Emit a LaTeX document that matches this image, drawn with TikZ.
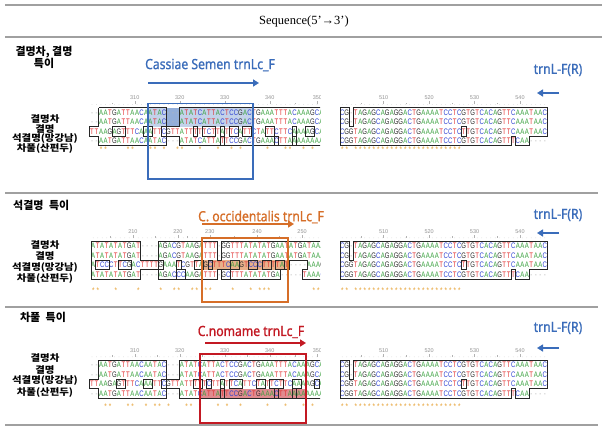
\documentclass[tikz,border=0pt]{standalone}
\usepackage{fontspec}
\setmainfont{Liberation Serif}
\newfontfamily\krf{Noto Sans CJK KR}
\newfontfamily\krw[FakeStretch=1.12]{Noto Sans CJK KR}
\newfontfamily\latf[FakeStretch=0.87,FakeBold=1]{Noto Sans}
\newfontfamily\seqf[FakeStretch=0.75]{Liberation Sans}
\newfontfamily\numf{Liberation Sans}
\usetikzlibrary{arrows.meta}
\definecolor{cA}{RGB}{55,160,60}
\definecolor{cC}{RGB}{45,65,210}
\definecolor{cG}{RGB}{40,40,40}
\definecolor{cT}{RGB}{225,40,40}
\definecolor{cStar}{RGB}{232,165,60}
\definecolor{cBlue}{RGB}{58,108,186}
\definecolor{cOrange}{RGB}{214,110,40}
\definecolor{cRed}{RGB}{195,25,35}
\definecolor{cLine}{RGB}{160,160,160}
\makeatletter
\def\sq@char#1{\makebox[4.5pt][c]{%
 \if#1A\textcolor{cA}{A}\else
 \if#1C\textcolor{cC}{C}\else
 \if#1G\textcolor{cG}{G}\else
 \if#1T\textcolor{cT}{T}\else
 \if#1*\raisebox{-1.6pt}{\textcolor{cStar}{\fontsize{8.5}{8.5}\selectfont *}}\else
 \if#1-\textcolor{gray!55}{-}\fi\fi\fi\fi\fi\fi}}
\def\sq@loop#1{\ifx#1\relax\else\sq@char{#1}\expandafter\sq@loop\fi}
\newcommand\seqrow[1]{\sq@loop#1\relax}
\makeatother
\tikzset{
 blk/.style 2 args={shift={(#1,#2)}, x=4.5pt, y=-9.5pt},
 seqnode/.style={anchor=west, inner sep=0pt, outer sep=0pt, font=\seqf\fontsize{8}{8}\selectfont},
 outl/.style={draw=black!85, line width=0.75pt},
 rowlab/.style={font=\krw\bfseries\fontsize{9.3}{10}\selectfont, inner sep=0pt},
 sechead/.style={font=\krf\bfseries\fontsize{11}{13}\selectfont, inner sep=0pt},
 rulnum/.style={font=\numf\fontsize{5.5}{5.5}\selectfont, text=gray!85, inner sep=0pt},
 sepline/.style={draw=cLine, line width=1.4pt},
 primer/.style={font=\latf\fontsize{14}{16}\selectfont, inner sep=0pt},
 parrow/.style={line width=2.2pt, -{Triangle[length=6pt,width=7pt]}},
}
\newcommand\rul[3]{%
 \foreach \c in {0,...,#1} \fill[gray!60] (\c+0.5,-0.35) circle (0.28pt);
 \foreach \p/\l in {#2} {%
   \draw[gray!60, line width=0.4pt] (\p,-0.35) -- (\p,-0.68);
   \draw[gray!60, line width=0.4pt] (\p-5,-0.35) -- (\p-5,-0.52);
   \node[rulnum] (#3n\l) at (\p,-1.05) {\l};}}
\begin{document}
\begin{tikzpicture}[x=1pt,y=-1pt]
\useasboundingbox (0,0) rectangle (608,434);
\fill[white] (0,0) rectangle (608,434);
% header lines
\draw[sepline] (5,5) -- (602,5);
\node[font=\fontsize{12.5}{14}\selectfont, inner sep=0pt] (title) at (304,21) {Sequence(5'→3')};
\draw[sepline] (5,37) -- (602,37);
\draw[sepline] (5,193) -- (598,193);
\draw[sepline] (5,307) -- (598,307);
\draw[sepline] (5,425) -- (598,425);
% section headers
\node[sechead] (h1a) at (44,52) {결명차, 결명};
\node[sechead] (h1b) at (44,63.5) {특이};
\node[sechead, anchor=west] (h2) at (13,205) {석결명\hspace{0.5em}특이};
\node[sechead] (h3) at (43,317) {차풀\hspace{0.5em}특이};
% row labels
\node[rowlab] (l1a) at (45,119) {결명차};
\node[rowlab] (l1b) at (45,128.8) {결명};
\node[rowlab] (l1c) at (45,138.5) {석결명(망강남)};
\node[rowlab] (l1d) at (45,148.2) {차풀(산편두)};
\node[rowlab] (l2a) at (45,245.5) {결명차};
\node[rowlab] (l2b) at (45,256.5) {결명};
\node[rowlab] (l2c) at (45,267.5) {석결명(망강남)};
\node[rowlab] (l2d) at (45,278.5) {차풀(산편두)};
\node[rowlab] (l3a) at (45,358.5) {결명차};
\node[rowlab] (l3b) at (45,370) {결명};
\node[rowlab] (l3c) at (45,381) {석결명(망강남)};
\node[rowlab] (l3d) at (45,392.5) {차풀(산편두)};
% primer titles and arrows
\node[primer, text=cBlue] (p1) at (210,65) {Cassiae Semen trnLc\_F};
\node[primer, text=cOrange] (p2) at (261,217) {C. occidentalis trnLc\_F};
\node[primer, text=cRed] (p3) at (251,332) {C.nomame trnLc\_F};
\node[primer, text=cBlue] (r1) at (558,70) {trnL-F(R)};
\node[primer, text=cBlue] (r2) at (558,215) {trnL-F(R)};
\node[primer, text=cBlue] (r3) at (558,328) {trnL-F(R)};
\coordinate (a1s) at (148,83); \coordinate (a1e) at (259,83);
\coordinate (a2s) at (202,224); \coordinate (a2e) at (294,224);
\coordinate (a3s) at (205,343); \coordinate (a3e) at (306,343);
\coordinate (b1s) at (559,93); \coordinate (b1e) at (537,93);
\coordinate (b2s) at (559,233); \coordinate (b2e) at (537,233);
\coordinate (b3s) at (559,348); \coordinate (b3e) at (537,348);
\draw[parrow, cBlue] (a1s) -- (a1e);
\draw[parrow, cOrange] (a2s) -- (a2e);
\draw[parrow, cRed] (a3s) -- (a3e);
\draw[parrow, cBlue] (b1s) -- (b1e);
\draw[parrow, cBlue] (b2s) -- (b2e);
\draw[parrow, cBlue] (b3s) -- (b3e);
% ---------------- left blocks (clipped) ----------------
\begin{scope}
\clip (80,40) rectangle (320,430);
% section 1 left
\begin{scope}[blk={89.75}{107.75}]
 \fill[cBlue, opacity=0.3] (12.94,0) rectangle (36.3,2);
 \fill[cBlue, opacity=0.35] (17,0) rectangle (20,2);
 \rul{51}{10/310,20/320,30/330,40/340,50.6/350}{s1L}
 \node[seqnode] (s1Lr0) at (0,0.5) {\seqrow{--AATGATTAACAATAC---ATATCATTACTCCGACTGAAATTTACAAAGCA}};
 \node[seqnode] (s1Lr1) at (0,1.5) {\seqrow{--AATGATTAACAATAC---ATATCATTACTCCGACTGAAATTTACAAAGCA}};
 \node[seqnode] (s1Lr2) at (0,2.5) {\seqrow{TTAAGAGTTTCAAATTCGTTATTTTTCTTATTCATTCTATTCTTCAAAAGCA}};
 \node[seqnode] (s1Lr3) at (0,3.5) {\seqrow{--AATGATTAACAATAC---ATATCATTATTCCGACTGAAACTTAAAAAAAA}};
 \node[seqnode] (s1Lst) at (0,4.4) {\seqrow{..**....**...**.*..**...*...*..*.*.....*...**..*.*}};
 \draw[outl] (2,0) -- (17,0) -- (17,2) -- (20,2) -- (20,0) -- (53,0);
 \draw[outl] (2,0) -- (2,2) -- (0,2) -- (0,3) -- (2,3) -- (2,4) -- (17,4) -- (17,3) -- (20,3) -- (20,4) -- (53,4);
 \foreach \a/\b in {5/7,12/13,16/16,23/23,25/27,29/29,31/32,34/35,39/40,45/45,48/49} \draw[outl] (\a,2) rectangle (\b+1,3);
 \foreach \a/\b in {29/29,41/41,45/45} \draw[outl] (\a,3) rectangle (\b+1,4);
\end{scope}
% section 2 left
\begin{scope}[blk={91}{241.25}]
 \fill[cOrange!90, opacity=0.6] (25.1,2) rectangle (43.6,3);
 \rul{52}{9.3/210,19.3/220,26.4/230,36.9/240,46.9/250}{s2L}
 \node[seqnode] (s2Lr0) at (0,0.5) {\seqrow{ATATATATGAT----AGACGTAAGATTT-GGTTTATATATGAATATGATAAAC}};
 \node[seqnode] (s2Lr1) at (0,1.5) {\seqrow{ATATATATGAT----AGACGTAAGATTT-GGTTTATATATGAATATGATAAAC}};
 \node[seqnode] (s2Lr2) at (0,2.5) {\seqrow{ATCCCTTCGACTTTTGAAATCGTTAGCTTTCAAGTCCCTTTTAT----AAAG}};
 \node[seqnode] (s2Lr3) at (0,3.5) {\seqrow{ATATATATGAT----AGACCCAAGATTT-GCTTTATATATGA-----TAAAC}};
 \node[seqnode] (s2Lst) at (0,5.2) {\seqrow{**...*....*....*..**..**.**....*...*.***.........***}};
 \draw[outl] (53,0) -- (29,0) -- (29,2) -- (28,2) -- (28,0) -- (15,0) -- (15,2) -- (11,2) -- (11,0) -- (0,0) -- (0,4) -- (11,4) -- (11,3) -- (15,3) -- (15,4) -- (28,4) -- (28,3) -- (29,3) -- (29,4) -- (42,4) -- (42,3) -- (44,3) -- (44,2) -- (48,2) -- (48,3) -- (47,3) -- (47,4) -- (53,4);
 \foreach \a/\b in {1/3,6/8,15/15,19/19,23/24,26/26,31/32,35/36,38/39,41/42} \draw[outl] (\a,2) rectangle (\b+1,3);
 \foreach \a/\b in {19/20,29/30} \draw[outl] (\a,3) rectangle (\b+1,4);
\end{scope}
% section 3 left
\begin{scope}[blk={89.75}{360.25}]
 \fill[cRed, opacity=0.5] (24.7,3) rectangle (47.8,4);
 \rul{51}{10/310,20/320,30/330,40/340,50.6/350}{s3L}
 \node[seqnode] (s3Lr0) at (0,0.5) {\seqrow{--AATGATTAACAATAC---ATATCATTACTCCGACTGAAATTTACAAAGCA}};
 \node[seqnode] (s3Lr1) at (0,1.5) {\seqrow{--AATGATTAACAATAC---ATATCATTACTCCGACTGAAATTTACAAAGCA}};
 \node[seqnode] (s3Lr2) at (0,2.5) {\seqrow{TTAAGAGTTTCAAATTCGTTATTTTTCTTATTCATTCTATTCTTCAAAAGCA}};
 \node[seqnode] (s3Lr3) at (0,3.5) {\seqrow{--AATGATTAACAATAC---ATATCATTATTCCGACTGAAACTTAAAAAAAA}};
 \node[seqnode] (s3Lst) at (0,4.9) {\seqrow{...**...**..*.**.*...**.*...*.*..*.....*...*...*.*}};
 \draw[outl] (2,0) -- (17,0) -- (17,2) -- (20,2) -- (20,0) -- (53,0);
 \draw[outl] (2,0) -- (2,2) -- (0,2) -- (0,3) -- (2,3) -- (2,4) -- (17,4) -- (17,3) -- (20,3) -- (20,4) -- (53,4);
 \foreach \a/\b in {6/7,12/13,16/16,23/24,26/26,29/29,31/33,37/38,40/42,45/46,50/50} \draw[outl] (\a,2) rectangle (\b+1,3);
 \foreach \a/\b in {29/29,41/41,45/45} \draw[outl] (\a,3) rectangle (\b+1,4);
\end{scope}
\end{scope}
% ---------------- right blocks ----------------
\foreach \yy/\sy/\nm in {107.75/4.4/s1R, 241.25/5.2/s2R, 360.25/4.9/s3R}{
\begin{scope}[blk={340}{\yy}]
 \rul{45}{9.7/510,19.8/520,29.9/530,40/540}{\nm}
 \node[seqnode] (\nm r0) at (0,0.5) {\seqrow{CG-TAGAGCAGAGGACTGAAAATCCTCGTGTCACAGTTCAAATAAC}};
 \node[seqnode] (\nm r1) at (0,1.5) {\seqrow{CG-TAGAGCAGAGGACTGAAAATCCTCGTGTCACAGTTCAAATAAC}};
 \node[seqnode] (\nm r2) at (0,2.5) {\seqrow{CGGTAGAGCAGAGGACTGAAAATCCTCTTGTCACAGTTCAAATAAC}};
 \node[seqnode] (\nm r3) at (0,3.5) {\seqrow{CGGTAGAGCAGAGGACTGAAAATCCTCGTGTCACAGTTTCAA----}};
 \node[seqnode] (\nm st) at (0,\sy) {\seqrow{**.************************}};
 \draw[outl] (0,0) -- (2,0) -- (2,2) -- (3,2) -- (3,0) -- (46,0) -- (46,3) -- (42,3) -- (42,4) -- (39,4) -- (39,3) -- (38,3) -- (38,4) -- (0,4) -- cycle;
 \draw[outl] (27,2) rectangle (28,3);
\end{scope}}
% highlight boxes
\draw[cBlue, line width=1.3pt] (148,103.5) rectangle (253,179);
\draw[cOrange, line width=1.3pt] (202,238) rectangle (288,302);
\draw[cRed, line width=1.3pt] (200,354) rectangle (306,423);
\end{tikzpicture}
\end{document}
